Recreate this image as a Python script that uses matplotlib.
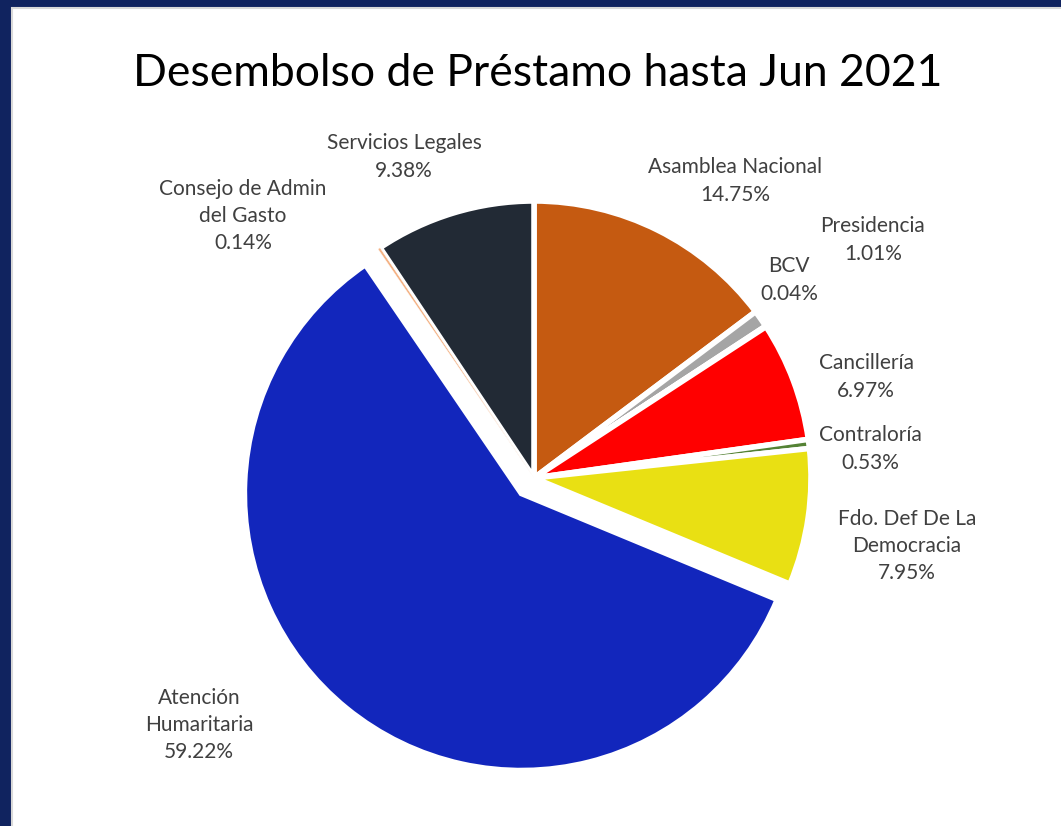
import matplotlib.pyplot as plt
from matplotlib.patches import Rectangle

# slices, clockwise from 12 o'clock
names = ['Asamblea Nacional', 'Presidencia', 'BCV', 'Cancillería', 'Contraloría',
         'Fdo. Def De La\nDemocracia', 'Atención\nHumaritaria',
         'Consejo de Admin\ndel Gasto', 'Servicios Legales']
shares = [14.75, 1.01, 0.04, 6.97, 0.53, 7.95, 59.22, 0.14, 9.38]
colors = ['#C55A11', '#A5A5A5', '#7F7F7F', '#FF0000', '#548235',
          '#E9E013', '#1226BC', '#F4B183', '#222A35']
explode = [0, 0, 0, 0, 0, 0, 20, 0, 0]
# label centres in pixels (from top-left)
label_xy = [(735, 181), (873, 240), (789, 280), (866, 377), (870, 449),
            (907, 546), (199, 725), (243, 216), (404, 157)]

W, H = 1061, 826
fig = plt.figure(figsize=(W / 100, H / 100), dpi=100, facecolor='#10235F')
fig.add_artist(Rectangle((12 / W, -0.01), 1, (H - 8) / H + 0.01, transform=fig.transFigure,
                         facecolor='white', edgecolor='#D9D9D9', lw=1.5, zorder=-1))

ax = fig.add_axes([0, 0, 1, 1])
wedges, _ = ax.pie(shares, colors=colors, explode=explode, startangle=90, counterclock=False,
                   center=(534, H - 478), radius=277,
                   wedgeprops=dict(edgecolor='white', linewidth=4))
# the thin Consejo sliver keeps only a fine edge and sits on top so it stays visible
wedges[7].set_linewidth(0.3)
wedges[7].set_zorder(3)
ax.set_xlim(0, W)
ax.set_ylim(0, H)
ax.set_aspect('equal')
ax.axis('off')

for name, pct, (x, y) in zip(names, shares, label_xy):
    ax.text(x, H - y, f'{name}\n{pct:.2f}%', ha='center', va='center',
            fontsize=15, family='Lato', color='#404040', linespacing=1.45)

fig.text(538 / W, 1 - 74 / H, 'Desembolso de Préstamo hasta Jun 2021',
         ha='center', va='center', fontsize=32, family='Lato', color='black')

fig.savefig('out.png', dpi=100, facecolor=fig.get_facecolor())
